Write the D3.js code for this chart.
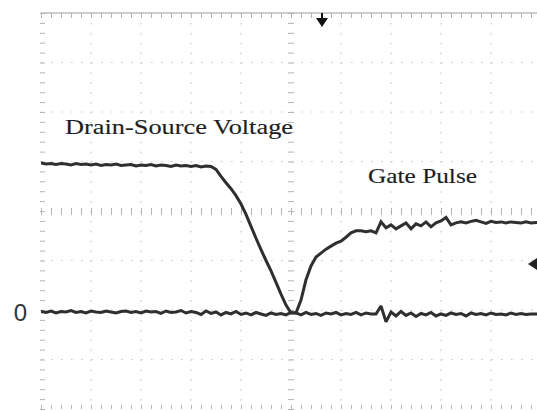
<!DOCTYPE html>
<html>
<head>
<meta charset="utf-8">
<script src="https://cdn.jsdelivr.net/npm/d3@7"></script>
<style>
  html, body { margin: 0; padding: 0; background: #ffffff; }
  svg { display: block; }
</style>
</head>
<body>
<svg id="scope" width="537" height="411"></svg>
<script>
// Oscilloscope capture: MOSFET turn-on, drain-source voltage vs gate pulse.
// Time and amplitude are in screen divisions (10 x 8 graticule).

// Drain-source voltage, one sample every 0.1 div from t = 0 to 10
const drainSource = [
  2.97, 2.95, 2.96, 2.94, 2.96, 2.95, 2.93, 2.96, 2.94, 2.95,
  2.93, 2.95, 2.92, 2.94, 2.93, 2.95, 2.92, 2.93, 2.94, 2.91,
  2.93, 2.92, 2.94, 2.91, 2.93, 2.92, 2.90, 2.93, 2.91, 2.92,
  2.90, 2.92, 2.89, 2.91, 2.90,
  2.84, 2.70, 2.57, 2.45, 2.31, 2.14, 1.93, 1.69, 1.45, 1.22,
  1.00, 0.79, 0.56, 0.32, 0.10, -0.06,
  -0.06, -0.10, -0.05, -0.09, -0.07, -0.11, -0.06, -0.08, -0.05, -0.10,
  -0.07, -0.09, -0.05, -0.10, -0.06, -0.08, -0.08, 0.08, -0.24, -0.04,
  -0.12, -0.03, -0.11, -0.06, -0.13, -0.07, -0.10, -0.05, -0.12, -0.08,
  -0.11, -0.06, -0.09, -0.07, -0.12, -0.06, -0.09, -0.07, -0.10, -0.06,
  -0.09, -0.08, -0.10, -0.06, -0.09, -0.07, -0.09, -0.08, -0.08, -0.08
];

// Gate pulse, same sampling
const gatePulse = [
  -0.03, -0.05, -0.02, -0.06, -0.03, -0.04, -0.01, -0.05, -0.03, -0.06,
  -0.02, -0.04, -0.05, -0.02, -0.04, -0.06, -0.03, -0.02, -0.05, -0.03,
  -0.06, -0.02, -0.04, -0.03, -0.07, -0.02, -0.05, -0.04, -0.01, -0.06,
  -0.03, -0.05, -0.09, -0.02, -0.07, -0.04, -0.10, -0.05, -0.08, -0.03,
  -0.09, -0.06, -0.10, -0.05, -0.08, -0.11, -0.06, -0.09, -0.07, -0.10,
  -0.05, -0.06,
  0.20, 0.61, 0.89, 1.07, 1.15, 1.23, 1.29, 1.35, 1.39, 1.47,
  1.56, 1.60, 1.60, 1.58, 1.60, 1.56,
  1.78, 1.66, 1.72, 1.64, 1.70, 1.76, 1.64, 1.74, 1.70, 1.78,
  1.68, 1.76, 1.80, 1.87, 1.72, 1.76, 1.78, 1.76, 1.79, 1.81,
  1.78, 1.75, 1.79, 1.77, 1.78, 1.76, 1.78, 1.77, 1.76, 1.78,
  1.76, 1.77, 1.77
];

const sampleStep = 0.1;                       // div per sample
const xDivisions = [0, 1, 2, 3, 4, 5, 6, 7, 8, 9, 10];
const yDivisions = [-2, -1, 0, 1, 2, 3, 4, 5, 6];
const zeroLabels = ["0"];
const traceNames = ["Drain-Source Voltage", "Gate Pulse"];
const triggerTime = 5.62;                     // trigger position marker
const triggerLevel = 0.93;                    // trigger level marker

const svg = d3.select("#scope");
const W = 537, H = 411;
const scrLeft = 41, scrRight = 541, scrTop = 13, scrBottom = 409;

const x = d3.scaleLinear().domain([0, 10]).range([scrLeft, scrRight]);
const y = d3.scaleLinear().domain([-2, 6]).range([scrBottom, scrTop]);

const minorX = d3.range(0, 10.001, 0.2);
const minorY = d3.range(-2, 6.001, 0.2);

const gridColor = "#cbcbcb";
const tickColor = "#b4b4b4";

// ---- graticule: dotted major lines ----
const grid = svg.append("g").attr("class", "graticule");
grid.selectAll("line.vgrid")
  .data(xDivisions.filter(d => d > 0 && d < 10 && d !== 5))
  .join("line")
  .attr("class", "vgrid")
  .attr("x1", d => x(d)).attr("x2", d => x(d))
  .attr("y1", scrTop).attr("y2", scrBottom)
  .attr("stroke", gridColor).attr("stroke-width", 1.2)
  .attr("stroke-dasharray", "1.6,8.3");

grid.selectAll("line.hgrid")
  .data(yDivisions.filter(d => d > -2 && d < 6 && d !== 2))
  .join("line")
  .attr("class", "hgrid")
  .attr("x1", scrLeft).attr("x2", W)
  .attr("y1", d => y(d)).attr("y2", d => y(d))
  .attr("stroke", gridColor).attr("stroke-width", 1.2)
  .attr("stroke-dasharray", "1.6,8.4");

// ---- tick rulers built from d3 axes ----
function styleRuler(g) {
  g.select(".domain").remove();
  g.selectAll(".tick line").attr("stroke", tickColor).attr("stroke-width", 1);
  g.selectAll(".tick text").remove();
}

// top frame line with ticks hanging down
svg.append("line")
  .attr("x1", scrLeft).attr("x2", W).attr("y1", scrTop).attr("y2", scrTop)
  .attr("stroke", "#bdbdbd").attr("stroke-width", 1.6);
svg.append("g")
  .attr("transform", `translate(0,${scrTop})`)
  .call(d3.axisBottom(x).tickValues(minorX).tickSize(5).tickFormat(""))
  .call(styleRuler);

// bottom frame ticks
svg.append("g")
  .attr("transform", `translate(0,${scrBottom})`)
  .call(d3.axisTop(x).tickValues(minorX).tickSize(4).tickFormat(""))
  .call(styleRuler);

// left frame ticks
svg.append("g")
  .attr("transform", `translate(${scrLeft - 1},0)`)
  .call(d3.axisRight(y).tickValues(minorY).tickSize(5).tickFormat(""))
  .call(styleRuler);

// centre horizontal axis
svg.append("g")
  .attr("transform", `translate(0,${y(2) - 3})`)
  .call(d3.axisBottom(x).tickValues(minorX).tickSize(7).tickFormat(""))
  .call(styleRuler);

// centre vertical axis
svg.append("g")
  .attr("transform", `translate(${x(5) - 3},0)`)
  .call(d3.axisRight(y).tickValues(minorY).tickSize(6).tickFormat(""))
  .call(styleRuler);

// ---- traces ----
const line = d3.line()
  .x((d, i) => x(i * sampleStep))
  .y(d => y(d))
  .curve(d3.curveLinear);

svg.append("defs").append("clipPath").attr("id", "screen")
  .append("rect").attr("x", scrLeft).attr("y", scrTop)
  .attr("width", W - scrLeft).attr("height", scrBottom - scrTop);

const traces = svg.append("g").attr("clip-path", "url(#screen)");
[gatePulse, drainSource].forEach(series => {
  traces.append("path")
    .datum(series)
    .attr("d", line)
    .attr("fill", "none")
    .attr("stroke", "#2f2f2f")
    .attr("stroke-width", 3)
    .attr("stroke-linejoin", "miter")
    .attr("stroke-miterlimit", 2);
});

// ---- zero-level label ----
const zeroAxis = svg.append("g")
  .attr("transform", `translate(${scrLeft},0)`)
  .call(d3.axisLeft(y).tickValues([0]).tickSize(0).tickPadding(14)
        .tickFormat((d, i) => zeroLabels[i]));
zeroAxis.select(".domain").remove();
zeroAxis.selectAll("text")
  .attr("font-family", "'Liberation Sans', Arial, sans-serif")
  .attr("font-size", 24)
  .attr("fill", "#333")
  .attr("dy", "0.42em");

// ---- trace labels ----
const labelPos = [
  { t: 0.48, v: 3.55, len: 228 },
  { t: 6.54, v: 2.56, len: 109 }
];
svg.selectAll("text.trace-label")
  .data(traceNames)
  .join("text")
  .attr("class", "trace-label")
  .attr("x", (d, i) => x(labelPos[i].t))
  .attr("y", (d, i) => y(labelPos[i].v))
  .attr("font-family", "'Liberation Serif', 'Times New Roman', serif")
  .attr("font-size", 22)
  .attr("fill", "#1e1e1e")
  .attr("stroke", "#1e1e1e")
  .attr("stroke-width", 0.15)
  .attr("textLength", (d, i) => labelPos[i].len)
  .attr("lengthAdjust", "spacingAndGlyphs")
  .text(d => d);

// ---- trigger markers ----
const tx = x(triggerTime);
svg.append("line")
  .attr("x1", tx).attr("x2", tx).attr("y1", scrTop).attr("y2", scrTop + 7)
  .attr("stroke", "#111").attr("stroke-width", 2);
svg.append("path")
  .attr("d", `M${tx - 6},${scrTop + 5} L${tx + 6},${scrTop + 5} L${tx},${scrTop + 14} Z`)
  .attr("fill", "#111");

const ty = y(triggerLevel);
svg.append("path")
  .attr("d", `M${W - 9},${ty} L${W},${ty - 6} L${W},${ty + 6} Z`)
  .attr("fill", "#222");
</script>
</body>
</html>
